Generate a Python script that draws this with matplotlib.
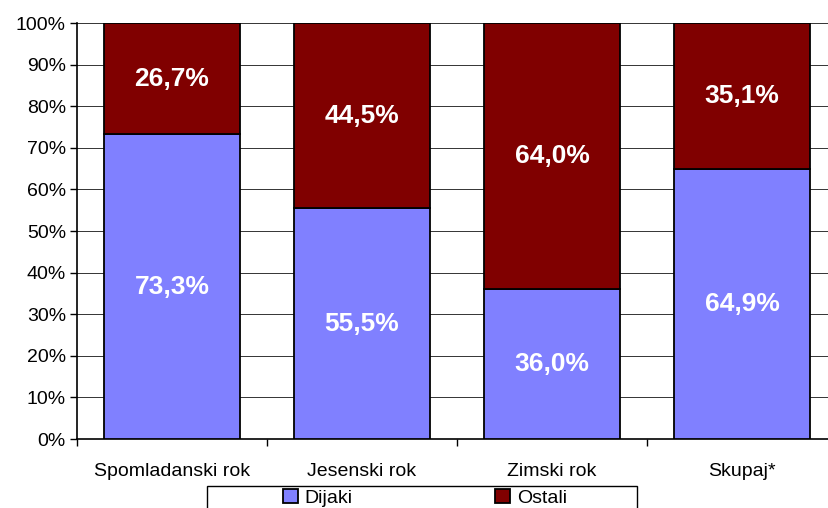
import numpy as np
import matplotlib.pyplot as plt
from matplotlib.patches import Rectangle
from matplotlib.ticker import FixedLocator, PercentFormatter

plt.rcParams['font.family'] = ['Liberation Sans', 'DejaVu Sans']

categories = ['Spomladanski rok', 'Jesenski rok', 'Zimski rok', 'Skupaj*']
dijaki = [73.3, 55.5, 36.0, 64.9]
ostali = [26.7, 44.5, 64.0, 35.1]
series_names = ['Dijaki', 'Ostali']
colors = ['#8080ff', '#800000']

W, H = 829, 508
fig = plt.figure(figsize=(W / 100, H / 100), dpi=100)
ax = fig.add_axes([77 / W, 1 - 439 / H, 760 / W, (439 - 23) / H])

x = np.arange(len(categories))
b1 = ax.bar(x, dijaki, width=0.716, color=colors[0], edgecolor='black', linewidth=1.3,
            label=series_names[0], zorder=3)
b2 = ax.bar(x, ostali, width=0.716, bottom=dijaki, color=colors[1], edgecolor='black',
            linewidth=1.3, label=series_names[1], zorder=3)

for xi, d, o in zip(x, dijaki, ostali):
    ax.text(xi, d / 2, f'{d:.1f}%'.replace('.', ','), ha='center', va='center',
            color='white', fontsize=19, fontweight='bold', zorder=4)
    ax.text(xi, d + o / 2, f'{o:.1f}%'.replace('.', ','), ha='center', va='center',
            color='white', fontsize=19, fontweight='bold', zorder=4)

ax.set_xlim(-0.5, len(categories) - 0.5)
ax.set_ylim(0, 100)
ax.set_yticks(np.arange(0, 101, 10))
ax.yaxis.set_major_formatter(PercentFormatter(decimals=0))
ax.grid(axis='y', color='#333333', linewidth=0.7, zorder=0)

ax.set_xticks(x)
ax.set_xticklabels(categories)
ax.xaxis.set_minor_locator(FixedLocator(np.arange(-0.5, len(categories), 1.0)))
ax.tick_params(axis='x', which='major', length=0, pad=17, labelsize=14)
ax.tick_params(axis='x', which='minor', length=5, width=1, direction='out')
ax.tick_params(axis='y', length=5, width=1, direction='out', labelsize=14, pad=3)

for side in ['top', 'right']:
    ax.spines[side].set_visible(False)
ax.spines['left'].set_linewidth(1.2)
ax.spines['bottom'].set_linewidth(1.2)

# legend: Excel-style wide frame with entries spread inside
leg = fig.legend(handles=[b1, b2], labels=series_names, ncol=2, loc='center',
                 bbox_to_anchor=(425 / W, 1 - 498 / H), frameon=False,
                 fontsize=14, handlelength=0.75, handleheight=0.75,
                 handletextpad=0.35, columnspacing=7.35, borderpad=0)
fig.add_artist(Rectangle((207 / W, -0.05), 430 / W, 0.05 + (508 - 486) / H,
                         transform=fig.transFigure, fill=False, edgecolor='black',
                         linewidth=1.0))

fig.savefig('out.png', dpi=100)
